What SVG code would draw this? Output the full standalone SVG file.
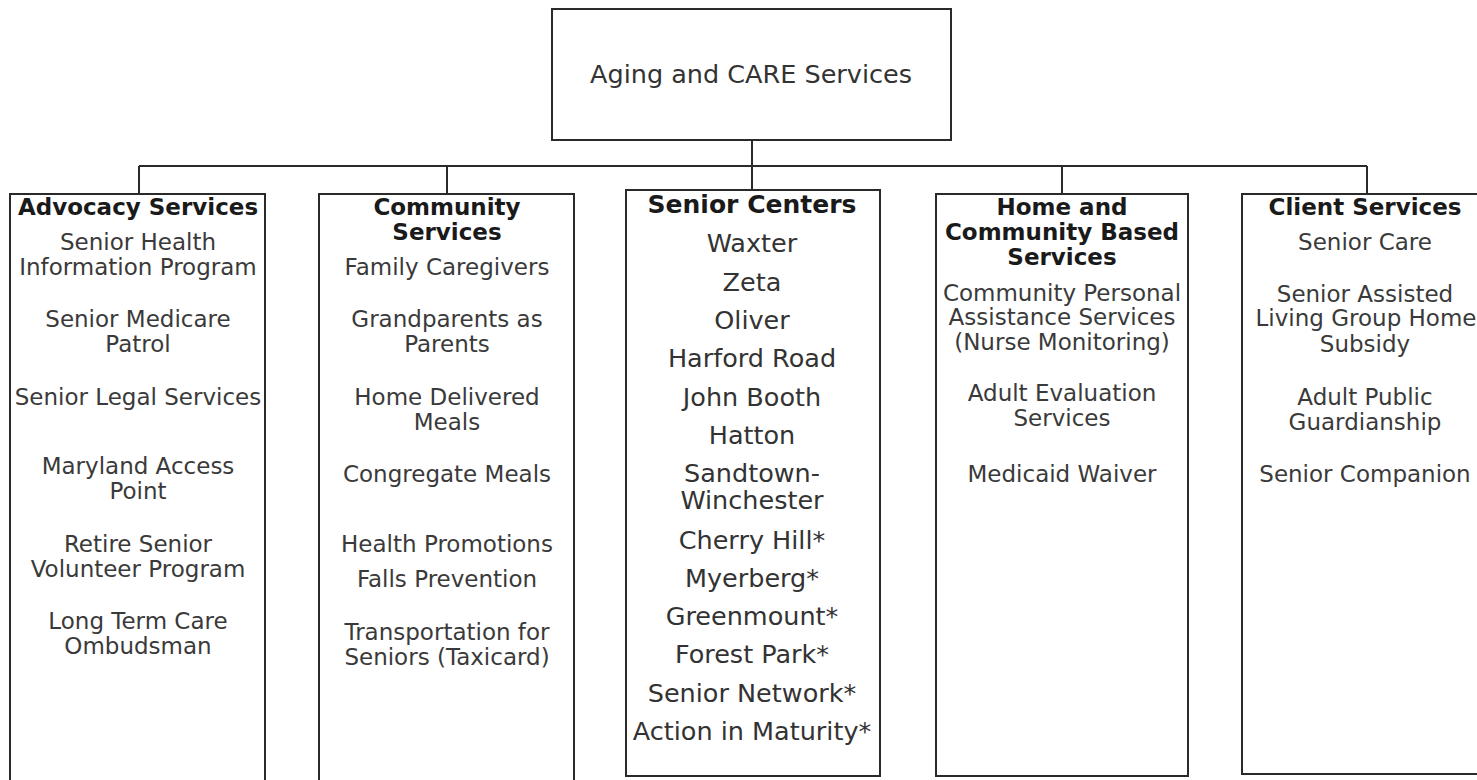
<svg xmlns="http://www.w3.org/2000/svg" width="1477" height="780" viewBox="0 0 1477 780">
<style>
.box{fill:#fff;stroke:#2a2a2a;stroke-width:2}
.ln{fill:none;stroke:#2a2a2a;stroke-width:2}
text{font-family:"DejaVu Sans","Noto Sans",sans-serif;text-anchor:middle}
.t{font-size:25.5px;fill:#333}
.h{font-size:23px;font-weight:bold;fill:#1a1a1a}
.b{font-size:23px;fill:#3a3a3a}
.hs{font-size:25px;font-weight:bold;fill:#1a1a1a}
.bs{font-size:25.5px;fill:#333}
</style>
<rect width="1477" height="780" fill="#fff"/>
<g id="connectors">
<path class="ln" d="M752 140V190M139 166H1367M139 166V194M447 166V194M1062 166V194M1367 166V194"/>
</g>
<g id="root">
<rect class="box" x="552" y="9" width="399" height="131"/>
<text class="t" x="751" y="83">Aging and CARE Services</text>
</g>
<g id="advocacy">
<rect class="box" x="10" y="194" width="255" height="590"/>
<text class="h" x="138" y="215">Advocacy Services</text>
<text class="b" x="138" y="250">Senior Health</text>
<text class="b" x="138" y="275">Information Program</text>
<text class="b" x="138" y="327">Senior Medicare</text>
<text class="b" x="138" y="352">Patrol</text>
<text class="b" x="138" y="405">Senior Legal Services</text>
<text class="b" x="138" y="474">Maryland Access</text>
<text class="b" x="138" y="499">Point</text>
<text class="b" x="138" y="552">Retire Senior</text>
<text class="b" x="138" y="577">Volunteer Program</text>
<text class="b" x="138" y="629">Long Term Care</text>
<text class="b" x="138" y="654">Ombudsman</text>
</g>
<g id="community">
<rect class="box" x="319" y="194" width="255" height="590"/>
<text class="h" x="447" y="215">Community</text>
<text class="h" x="447" y="240">Services</text>
<text class="b" x="447" y="275">Family Caregivers</text>
<text class="b" x="447" y="327">Grandparents as</text>
<text class="b" x="447" y="352">Parents</text>
<text class="b" x="447" y="405">Home Delivered</text>
<text class="b" x="447" y="430">Meals</text>
<text class="b" x="447" y="482">Congregate Meals</text>
<text class="b" x="447" y="552">Health Promotions</text>
<text class="b" x="447" y="587">Falls Prevention</text>
<text class="b" x="447" y="640">Transportation for</text>
<text class="b" x="447" y="665">Seniors (Taxicard)</text>
</g>
<g id="senior-centers">
<rect class="box" x="626" y="190" width="254" height="586"/>
<text class="hs" x="752" y="213">Senior Centers</text>
<text class="bs" x="752" y="252">Waxter</text>
<text class="bs" x="752" y="291">Zeta</text>
<text class="bs" x="752" y="329">Oliver</text>
<text class="bs" x="752" y="367">Harford Road</text>
<text class="bs" x="752" y="406">John Booth</text>
<text class="bs" x="752" y="444">Hatton</text>
<text class="bs" x="752" y="482">Sandtown-</text>
<text class="bs" x="752" y="509">Winchester</text>
<text class="bs" x="752" y="549">Cherry Hill*</text>
<text class="bs" x="752" y="587">Myerberg*</text>
<text class="bs" x="752" y="625">Greenmount*</text>
<text class="bs" x="752" y="663">Forest Park*</text>
<text class="bs" x="752" y="702">Senior Network*</text>
<text class="bs" x="752" y="740">Action in Maturity*</text>
</g>
<g id="home-community">
<rect class="box" x="936" y="194" width="252" height="582"/>
<text class="h" x="1062" y="215">Home and</text>
<text class="h" x="1062" y="240">Community Based</text>
<text class="h" x="1062" y="265">Services</text>
<text class="b" x="1062" y="301">Community Personal</text>
<text class="b" x="1062" y="325">Assistance Services</text>
<text class="b" x="1062" y="350">(Nurse Monitoring)</text>
<text class="b" x="1062" y="401">Adult Evaluation</text>
<text class="b" x="1062" y="426">Services</text>
<text class="b" x="1062" y="482">Medicaid Waiver</text>
</g>
<g id="client">
<rect class="box" x="1242" y="194" width="250" height="580"/>
<text class="h" x="1365" y="215">Client Services</text>
<text class="b" x="1365" y="250">Senior Care</text>
<text class="b" x="1365" y="302">Senior Assisted</text>
<text class="b" x="1366" y="326">Living Group Home</text>
<text class="b" x="1365" y="352">Subsidy</text>
<text class="b" x="1365" y="405">Adult Public</text>
<text class="b" x="1365" y="430">Guardianship</text>
<text class="b" x="1365" y="482">Senior Companion</text>
</g>
</svg>
